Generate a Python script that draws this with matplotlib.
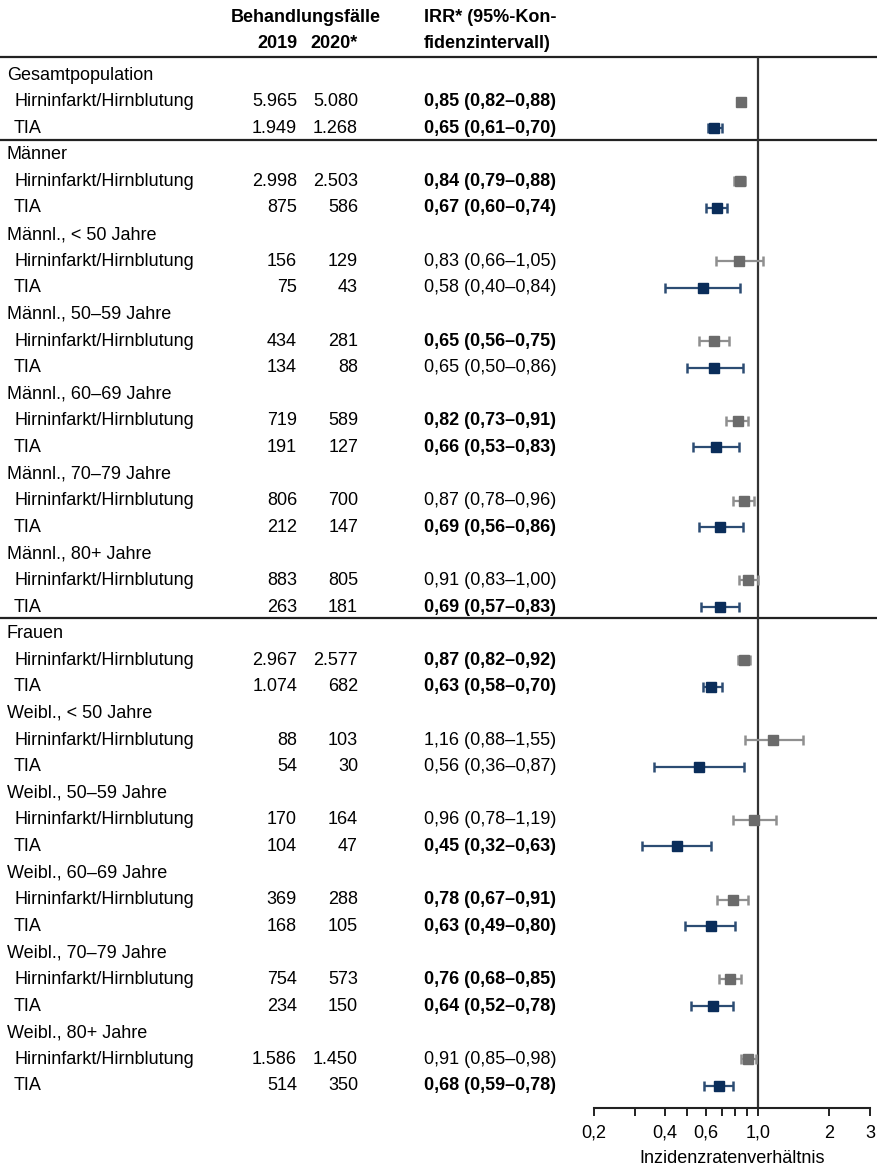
import matplotlib
matplotlib.use('Agg')
import matplotlib.pyplot as plt
from matplotlib.ticker import FixedLocator, NullFormatter

plt.rcParams['font.family'] = ['Liberation Sans', 'DejaVu Sans']
FS = 13
HEAD_FONT = ['Liberation Sans Narrow', 'Liberation Sans', 'DejaVu Sans']

# --- data ---
groups = ['Gesamtpopulation', 'Männer',
          'Männl., < 50 Jahre', 'Männl., 50–59 Jahre', 'Männl., 60–69 Jahre',
          'Männl., 70–79 Jahre', 'Männl., 80+ Jahre', 'Frauen',
          'Weibl., < 50 Jahre', 'Weibl., 50–59 Jahre', 'Weibl., 60–69 Jahre',
          'Weibl., 70–79 Jahre', 'Weibl., 80+ Jahre']
outcomes = ['Hirninfarkt/Hirnblutung', 'TIA']
# two values per group: (Hirninfarkt/Hirnblutung, TIA)
cases_2019 = [5965, 1949, 2998, 875, 156, 75, 434, 134, 719, 191, 806, 212, 883, 263,
              2967, 1074, 88, 54, 170, 104, 369, 168, 754, 234, 1586, 514]
cases_2020 = [5080, 1268, 2503, 586, 129, 43, 281, 88, 589, 127, 700, 147, 805, 181,
              2577, 682, 103, 30, 164, 47, 288, 105, 573, 150, 1450, 350]
irr = [0.85, 0.65, 0.84, 0.67, 0.83, 0.58, 0.65, 0.65, 0.82, 0.66, 0.87, 0.69, 0.91, 0.69,
       0.87, 0.63, 1.16, 0.56, 0.96, 0.45, 0.78, 0.63, 0.76, 0.64, 0.91, 0.68]
ci_lo = [0.82, 0.61, 0.79, 0.60, 0.66, 0.40, 0.56, 0.50, 0.73, 0.53, 0.78, 0.56, 0.83, 0.57,
         0.82, 0.58, 0.88, 0.36, 0.78, 0.32, 0.67, 0.49, 0.68, 0.52, 0.85, 0.59]
ci_hi = [0.88, 0.70, 0.88, 0.74, 1.05, 0.84, 0.75, 0.86, 0.91, 0.83, 0.96, 0.86, 1.00, 0.83,
         0.92, 0.70, 1.55, 0.87, 1.19, 0.63, 0.91, 0.80, 0.85, 0.78, 0.98, 0.78]
bold = [1, 1, 1, 1, 0, 0, 1, 0, 1, 1, 0, 1, 0, 1,
        1, 1, 0, 0, 0, 1, 1, 1, 1, 1, 0, 1]
separator_after = ['Gesamtpopulation', 'Männl., 80+ Jahre']
xticks = [0.2, 0.4, 0.6, 1.0, 2, 3]
xticklabels = ['0,2', '0,4', '0,6', '1,0', '2', '3']
xminor = [0.3, 0.5, 0.7, 0.8, 0.9]

GREY = '#6b6b6b'
GREY_LINE = '#8f8f8f'
NAVY = '#0a2d5a'
NAVY_LINE = '#2c4c73'
DARK = '#222222'

# --- layout (pixel based) ---
W, H = 877, 1165
TOP_PX, ROW_PX = 75, 26.6


def row(px):
    return (px - TOP_PX) / ROW_PX


def de_num(v):
    return f'{v:,}'.replace(',', '.')


def de_irr(v, lo, hi):
    f = lambda x: f'{x:.2f}'.replace('.', ',')
    return f'{f(v)} ({f(lo)}–{f(hi)})'


fig = plt.figure(figsize=(W / 100, H / 100), dpi=100)
ax_t = fig.add_axes([0, 0, 1, 1])
ax_t.set_xlim(0, W)
ax_t.set_ylim(row(H), row(0))
ax_t.axis('off')

# header
hd = dict(va='center', fontsize=FS, fontweight='bold', family=HEAD_FONT)
ax_t.text(306, row(17), 'Behandlungsfälle', ha='center', **hd)
ax_t.text(297, row(43), '2019', ha='right', **hd)
ax_t.text(358, row(43), '2020*', ha='right', **hd)
ax_t.text(424, row(17), 'IRR* (95%-Kon-', ha='left', **hd)
ax_t.text(424, row(43), 'fidenzintervall)', ha='left', **hd)
ax_t.axhline(row(57), color=DARK, lw=1.6)

# rows
ys, cols = [], []
r = 0
for g, name in enumerate(groups):
    ax_t.text(7, r, name, ha='left', va='center', fontsize=FS)
    r += 1
    for k, outcome in enumerate(outcomes):
        i = 2 * g + k
        ax_t.text(14, r, outcome, ha='left', va='center', fontsize=FS)
        ax_t.text(297, r, de_num(cases_2019[i]), ha='right', va='center', fontsize=FS)
        ax_t.text(358, r, de_num(cases_2020[i]), ha='right', va='center', fontsize=FS)
        ax_t.text(424, r, de_irr(irr[i], ci_lo[i], ci_hi[i]), ha='left', va='center',
                  fontsize=FS, fontweight='bold' if bold[i] else 'normal')
        ys.append(r)
        cols.append(k)
        r += 1
    if name in separator_after:
        ax_t.axhline(r - 1 + 0.43, color=DARK, lw=1.6)

# forest plot
AX_L, AX_R, AX_T, AX_B = 594, 870, 57, 1108
ax = fig.add_axes([AX_L / W, (H - AX_B) / H, (AX_R - AX_L) / W, (AX_B - AX_T) / H])
ax.set_xscale('log')
ax.set_xlim(0.2, 3)
ax.set_ylim(row(AX_B), row(AX_T))
ax.patch.set_alpha(0)
for s in ['left', 'right', 'top']:
    ax.spines[s].set_visible(False)
ax.spines['bottom'].set_linewidth(1.5)
ax.spines['bottom'].set_color(DARK)
ax.axvline(1.0, color='#333333', lw=1.6, zorder=1)

for y, k, v, lo, hi in zip(ys, cols, irr, ci_lo, ci_hi):
    mc = GREY if k == 0 else NAVY
    lc = GREY_LINE if k == 0 else NAVY_LINE
    _, caps, _ = ax.errorbar([v], [y], xerr=[[v - lo], [hi - v]], fmt='none',
                             ecolor=lc, elinewidth=1.6, capsize=3.3, capthick=1.8, zorder=2)
    for c in caps:
        c.set_color(mc)
    ax.plot([v], [y], 's', color=mc, markersize=7, zorder=3)

ax.xaxis.set_major_locator(FixedLocator(xticks))
ax.set_xticklabels(xticklabels)
ax.xaxis.set_minor_locator(FixedLocator(xminor))
ax.xaxis.set_minor_formatter(NullFormatter())
ax.tick_params(axis='x', which='both', direction='out', length=6, width=1.4,
               color=DARK, labelsize=FS, pad=6)
ax.set_yticks([])
ax.set_xlabel('Inzidenzratenverhältnis', fontsize=FS, labelpad=6)

fig.savefig('out.png', dpi=100)
